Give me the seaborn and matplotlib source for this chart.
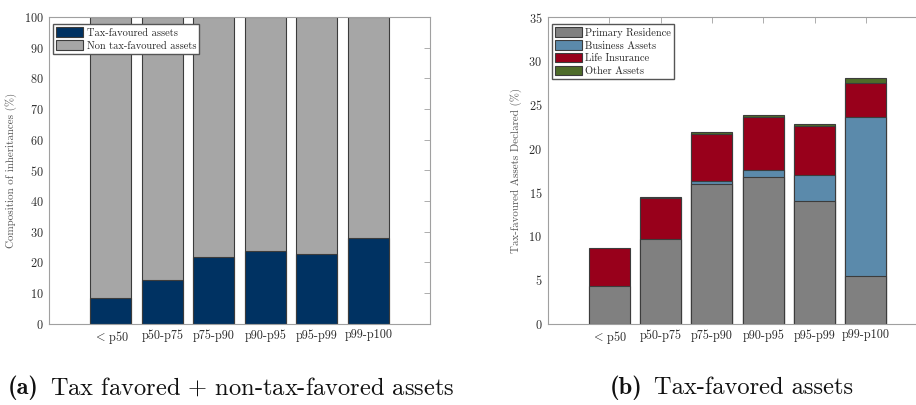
import numpy as np
import pandas as pd
import matplotlib
matplotlib.use("Agg")
import matplotlib.pyplot as plt
from matplotlib.patches import Patch
import seaborn as sns

# Wealth groups of the deceased
groups = [r"$<\,$p50", "p50-p75", "p75-p90", "p90-p95", "p95-p99", "p99-p100"]

# (a) share of tax-favoured assets in inheritances (%)
tax_favoured = [8.5, 14.3, 21.8, 23.7, 22.8, 28.0]
non_tax_favoured = [100 - v for v in tax_favoured]

# (b) composition of tax-favoured assets declared (%)
primary_residence = [4.3, 9.7, 16.0, 16.8, 14.0, 5.4]
business_assets = [0.0, 0.0, 0.25, 0.8, 3.0, 18.2]
life_insurance = [4.3, 4.7, 5.45, 6.0, 5.6, 3.9]
other_assets = [0.0, 0.05, 0.15, 0.2, 0.25, 0.55]

sns.set_theme(style="white")
plt.rcParams["font.family"] = ["cmr10"]
plt.rcParams["mathtext.fontset"] = "cm"
plt.rcParams["axes.formatter.use_mathtext"] = True
plt.rcParams["axes.unicode_minus"] = False

EDGE = "#3c3c3c"
SPINE = "#a0a0a0"


def stacked(ax, layers, colors):
    """Draw stacked bars by overlaying cumulative totals, tallest first.
    Empty segments are skipped so their outlines do not double up."""
    arr = np.array(layers, dtype=float)
    cum = np.cumsum(arr, axis=0)
    for i in range(len(layers) - 1, -1, -1):
        vals = np.where(arr[i] > 0, cum[i], np.nan)
        df = pd.DataFrame({"group": groups, "value": vals})
        sns.barplot(data=df, x="group", y="value", order=groups, ax=ax,
                    color=colors[i], saturation=1, width=0.8,
                    edgecolor=EDGE, linewidth=0.8, errorbar=None)


def style(ax, ymax, ystep, ylabel):
    ax.set_xlim(-1.2, 6.2)
    ax.set_ylim(0, ymax)
    ax.set_yticks(np.arange(0, ymax + 0.1, ystep))
    ax.set_xticks(range(len(groups)))
    ax.set_xticklabels(groups)
    ax.set_xlabel("")
    ax.set_ylabel(ylabel, fontsize=7.9, color="#555555", labelpad=5)
    ax.tick_params(axis="both", direction="in", length=4, width=0.6,
                   color=SPINE, labelsize=8.8, labelcolor="#2a2a2a",
                   top=True, right=True, pad=4)
    for s in ax.spines.values():
        s.set_visible(True)
        s.set_color(SPINE)
        s.set_linewidth(0.8)


def caption(fig, x_px, tag, text):
    """Bold tag followed by a roman caption, starting at x_px pixels."""
    renderer = fig.canvas.get_renderer()
    y = 0.042
    t = fig.text(x_px / fig.bbox.width, y, tag, family="cmb10", fontsize=17.6,
                 ha="left", va="center", color="#111111")
    end = t.get_window_extent(renderer).x1
    fig.text((end + 11) / fig.bbox.width, y, text, fontsize=17.6,
             ha="left", va="center", color="#111111")


fig = plt.figure(figsize=(9.16, 4.05), dpi=100)
axa = fig.add_axes([0.0535, 0.2007, 0.416, 0.757])
axb = fig.add_axes([0.598, 0.2007, 0.4145, 0.757])

# Panel (a)
cols_a = ["#003262", "#a6a6a6"]
stacked(axa, [tax_favoured, non_tax_favoured], cols_a)
style(axa, 100, 10, "Composition of inheritances (%)")
axa.legend(handles=[Patch(facecolor=c, edgecolor=EDGE, linewidth=0.8) for c in cols_a],
           labels=["Tax-favoured assets", "Non tax-favoured assets"],
           loc="upper left", bbox_to_anchor=(0.0, 0.99), fontsize=7.5,
           frameon=True, fancybox=False, edgecolor="#555555", framealpha=1,
           handlelength=2.6, handleheight=1.0, handletextpad=0.3,
           labelspacing=0.25, borderpad=0.3, borderaxespad=0.4)

# Panel (b)
cols_b = ["#808080", "#5b8aab", "#98001b", "#4e6c2a"]
stacked(axb, [primary_residence, business_assets, life_insurance, other_assets], cols_b)
style(axb, 35, 5, "Tax-favoured Assets Declared (%)")
axb.legend(handles=[Patch(facecolor=c, edgecolor=EDGE, linewidth=0.8) for c in cols_b],
           labels=["Primary Residence", "Business Assets", "Life Insurance", "Other Assets"],
           loc="upper left", bbox_to_anchor=(0.0, 0.99), fontsize=7.5,
           frameon=True, fancybox=False, edgecolor="#555555", framealpha=1,
           handlelength=2.6, handleheight=1.0, handletextpad=0.3,
           labelspacing=0.25, borderpad=0.3, borderaxespad=0.4)

# Sub-figure captions
caption(fig, 8, "(a)", r"Tax favored $+$ non-tax-favored assets")
caption(fig, 610, "(b)", "Tax-favored assets")

fig.savefig("out.png", dpi=100)
